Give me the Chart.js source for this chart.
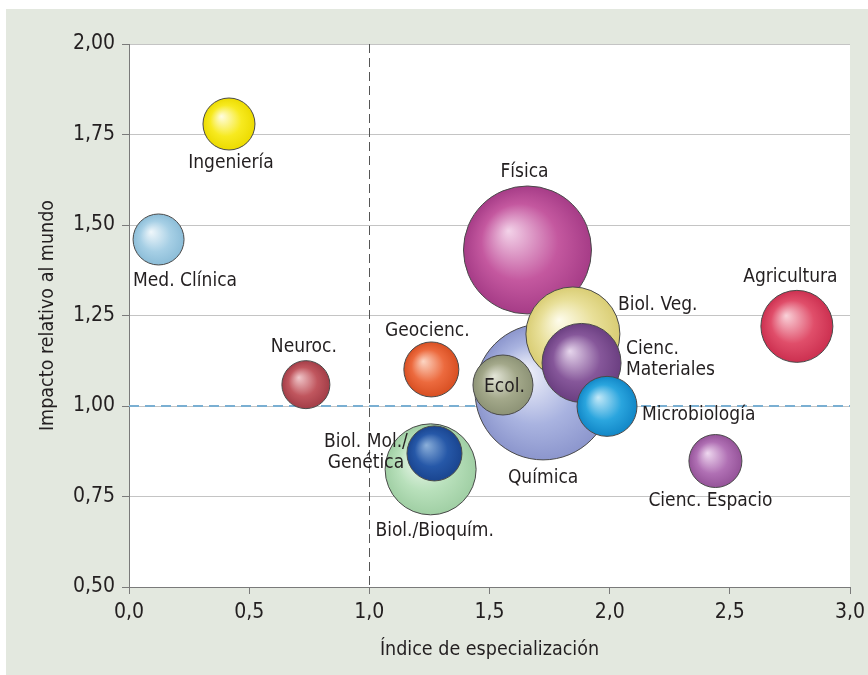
<!DOCTYPE html>
<html>
<head>
<meta charset="utf-8">
<script src="https://cdn.jsdelivr.net/npm/chart.js@4/dist/chart.umd.min.js"></script>
<style>
  html, body { margin: 0; padding: 0; background: #ffffff; }
  #wrap { width: 868px; height: 675px; position: relative; }
</style>
</head>
<body>
<div id="wrap"><canvas id="c" width="868" height="675"></canvas></div>
<script>
// ---------- DATA ----------
const categories = ['Química', 'Física', 'Biol. Veg.', 'Cienc. Materiales', 'Microbiología', 'Ecol.',
  'Biol./Bioquím.', 'Biol. Mol./Genética', 'Ingeniería', 'Med. Clínica', 'Neuroc.', 'Geocienc.',
  'Agricultura', 'Cienc. Espacio'];
const specializationIndex = [1.723, 1.658, 1.847, 1.883, 1.989, 1.556, 1.255, 1.271, 0.416, 0.123, 0.736, 1.258, 2.779, 2.440];
const relativeImpact      = [1.039, 1.431, 1.199, 1.119, 0.999, 1.058, 0.825, 0.869, 1.779, 1.460, 1.059, 1.101, 1.220, 0.848];
const bubbleSize          = [68, 64, 47, 39.5, 30, 30, 45.5, 27.5, 26, 25.5, 24, 27.5, 36, 26.5];
const xTickLabels = ['0,0', '0,5', '1,0', '1,5', '2,0', '2,5', '3,0'];
const yTickLabels = ['0,50', '0,75', '1,00', '1,25', '1,50', '1,75', '2,00'];
const xReference = 1.0;
const yReference = 1.0;

// ---------- STYLE ----------
const baseColors  = ['#a9b3e0', '#c4589f', '#e8df98', '#86579a', '#2aa5de', '#a3a88a', '#b8e0bb', '#2658a8', '#f7ea20', '#a6cfe5', '#c0565e', '#ec6a3e', '#e04e6a', '#b070b4'];
const lightColors = ['#f4f5fc', '#f3d3e9', '#fefcec', '#e6d6ec', '#c4e9f8', '#e4e6d9', '#f3faf3', '#8cb0da', '#fffde4', '#f0f7fb', '#f0c8cb', '#fcd6c4', '#f9d2d9', '#eed8ef'];
const darkColors  = ['#8c96cd', '#a63c87', '#d9cd74', '#6b3f81', '#1287c7', '#8d9376', '#a0cfa4', '#1a4590', '#ecdb00', '#8cbdd8', '#a33d47', '#d84f22', '#cc3050', '#955399'];
// label placement relative to each bubble centre (pixels)
const labelLayout = [
  {dx: 0, dy: 86, align: 'center', lines: ['Química']},
  {dx: -3, dy: -78, align: 'center', lines: ['Física']},
  {dx: 45, dy: -29, align: 'left', lines: ['Biol. Veg.']},
  {dx: 44.5, dy: -14, align: 'left', lines: ['Cienc.', 'Materiales']},
  {dx: 35, dy: 8.5, align: 'left', lines: ['Microbiología']},
  {dx: 1.5, dy: 2, align: 'center', lines: ['Ecol.']},
  {dx: 4, dy: 61.5, align: 'center', lines: ['Biol./Bioquím.']},
  {dx: -68.5, dy: -11.5, align: 'center', lines: ['Biol. Mol./', 'Genética']},
  {dx: 2, dy: 39, align: 'center', lines: ['Ingeniería']},
  {dx: 26.5, dy: 41.5, align: 'center', lines: ['Med. Clínica']},
  {dx: -2, dy: -37.5, align: 'center', lines: ['Neuroc.']},
  {dx: -4, dy: -38.5, align: 'center', lines: ['Geocienc.']},
  {dx: -6.5, dy: -49.5, align: 'center', lines: ['Agricultura']},
  {dx: -5, dy: 40, align: 'center', lines: ['Cienc. Espacio']}
];

// font detection
function pickFamily() {
  const cands = ['Liberation Sans Narrow', 'Arial Narrow', 'DejaVu Sans Condensed', 'Roboto Condensed'];
  const cv = document.createElement('canvas').getContext('2d');
  const s = 'Med. Clínica Agricultura 0123';
  for (const f of cands) {
    cv.font = '40px monospace'; const a = cv.measureText(s).width;
    cv.font = '40px "' + f + '", monospace'; const b = cv.measureText(s).width;
    cv.font = '40px serif'; const c = cv.measureText(s).width;
    cv.font = '40px "' + f + '", serif'; const d = cv.measureText(s).width;
    if (a !== b && c !== d) return f;
  }
  return 'Roboto';
}
const FAMILY = pickFamily();
const mctx = document.createElement('canvas').getContext('2d');
mctx.font = '19px "' + FAMILY + '"';
let k = 104 / mctx.measureText('Med. Clínica').width;
k = Math.max(0.75, Math.min(1.15, k));
const LABEL_SIZE = 19 * k, TICK_SIZE = 21 * k, TITLE_SIZE = 19.5 * k;
const TEXT = '#231f20';

function bubbleFill(ctx) {
  const i = ctx.dataIndex;
  const chart = ctx.chart;
  if (ctx.type !== 'data' || !chart.scales.x || !chart.chartArea) return baseColors[i];
  const cx = chart.scales.x.getPixelForValue(specializationIndex[i]);
  const cy = chart.scales.y.getPixelForValue(relativeImpact[i]);
  const r = bubbleSize[i];
  const g = chart.ctx.createRadialGradient(cx - 0.3 * r, cy - 0.3 * r, 0, cx, cy, r);
  g.addColorStop(0, lightColors[i]);
  g.addColorStop(0.6, baseColors[i]);
  g.addColorStop(1, darkColors[i]);
  return g;
}

const bgPlugin = {
  id: 'bg',
  beforeDraw(chart) {
    const c = chart.ctx, a = chart.chartArea;
    c.save();
    c.fillStyle = '#ffffff';
    c.fillRect(0, 0, chart.width, chart.height);
    c.fillStyle = '#e3e8df';
    c.fillRect(6, 9, chart.width - 6, chart.height - 9);
    c.fillStyle = '#ffffff';
    c.fillRect(a.left, a.top, a.right - a.left, a.bottom - a.top);
    c.restore();
  },
  beforeDatasetsDraw(chart) {
    const c = chart.ctx, a = chart.chartArea;
    const xp = chart.scales.x.getPixelForValue(xReference);
    const yp = chart.scales.y.getPixelForValue(yReference);
    c.save();
    c.lineWidth = 1;
    c.strokeStyle = '#555555';
    c.setLineDash([9, 5]);
    c.beginPath(); c.moveTo(Math.round(xp) + 0.5, a.top); c.lineTo(Math.round(xp) + 0.5, a.bottom); c.stroke();
    c.lineWidth = 2;
    c.strokeStyle = '#7aafd2';
    c.setLineDash([10, 6]);
    c.beginPath(); c.moveTo(a.left, yp); c.lineTo(a.right, yp); c.stroke();
    c.restore();
  },
  afterDatasetsDraw(chart) {
    const c = chart.ctx;
    const meta = chart.getDatasetMeta(0);
    c.save();
    c.fillStyle = TEXT;
    c.font = LABEL_SIZE + 'px "' + FAMILY + '"';
    c.textBaseline = 'middle';
    meta.data.forEach((el, i) => {
      const L = labelLayout[i];
      c.textAlign = L.align;
      L.lines.forEach((t, j) => c.fillText(t, el.x + L.dx, el.y + L.dy + j * 21.5));
    });
    c.restore();
  }
};

new Chart(document.getElementById('c'), {
  type: 'bubble',
  data: {
    labels: categories,
    datasets: [{
      data: categories.map((_, i) => ({x: specializationIndex[i], y: relativeImpact[i], r: bubbleSize[i]})),
      backgroundColor: bubbleFill,
      borderColor: '#4a4a4a',
      borderWidth: 1,
      clip: false
    }]
  },
  options: {
    responsive: false,
    animation: false,
    events: [],
    layout: {autoPadding: false, padding: {left: 6, top: 44, right: 18, bottom: 0}},
    plugins: {legend: {display: false}, tooltip: {enabled: false}},
    scales: {
      x: {
        type: 'linear', min: 0, max: 3,
        afterFit(s) { s.height = 88; s.paddingRight = 0; },
        ticks: {stepSize: 0.5, padding: 6, color: TEXT, font: {family: FAMILY, size: TICK_SIZE},
          callback: (v, i) => xTickLabels[i]},
        grid: {drawOnChartArea: false, tickLength: 7, tickColor: '#7a7a7a', tickWidth: 1},
        border: {color: '#7a7a7a', width: 1},
        title: {display: true, text: 'Índice de especialización', color: TEXT,
          font: {family: FAMILY, size: TITLE_SIZE, lineHeight: 1.2}, padding: {top: 0, bottom: 13}}
      },
      y: {
        type: 'linear', min: 0.5, max: 2,
        afterFit(s) { s.width = 123; },
        ticks: {stepSize: 0.25, padding: 7, color: TEXT, font: {family: FAMILY, size: TICK_SIZE},
          callback: (v, i) => yTickLabels[i]},
        grid: {color: '#c4c4c4', tickLength: 7, tickColor: '#7a7a7a', lineWidth: 1},
        border: {color: '#7a7a7a', width: 1},
        title: {display: true, text: 'Impacto relativo al mundo', color: TEXT,
          font: {family: FAMILY, size: TITLE_SIZE, lineHeight: 1.2}, padding: {top: 30, bottom: 0}}
      }
    }
  },
  plugins: [bgPlugin]
});
</script>
</body>
</html>
